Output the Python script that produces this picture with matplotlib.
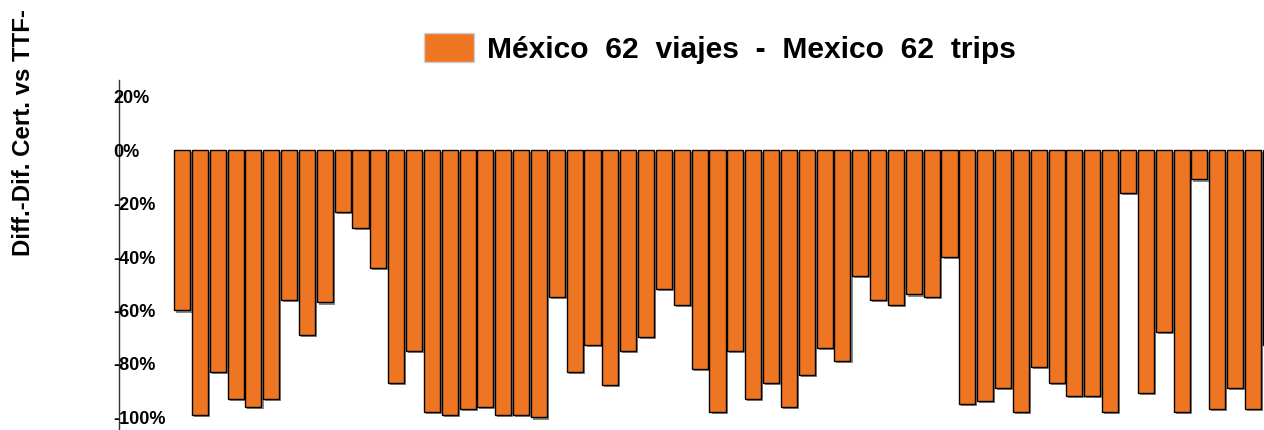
import matplotlib
matplotlib.use("Agg")
import matplotlib.pyplot as plt
import matplotlib.patheffects as pe
from matplotlib.patches import Patch
from matplotlib.ticker import PercentFormatter
import numpy as np

plt.rcParams['font.family'] = ['Liberation Sans', 'DejaVu Sans']
plt.rcParams['axes.unicode_minus'] = False

# ---- data ----
series_label = "México  62  viajes  -  Mexico  62  trips"
y_label = "Diff.-Dif. Cert. vs TTF-"
values = [-60, -99, -83, -93, -96, -93, -56, -69, -57, -23,
          -29, -44, -87, -75, -98, -99, -97, -96, -99, -99,
          -100, -55, -83, -73, -88, -75, -70, -52, -58, -82,
          -98, -75, -93, -87, -96, -84, -74, -79, -47, -56,
          -58, -54, -55, -40, -95, -94, -89, -98, -81, -87,
          -92, -92, -98, -16, -91, -68, -98, -11, -97, -89,
          -97, -73]
y_ticks = [-100, -80, -60, -40, -20, 0, 20]

bar_color = '#EE7623'

W, H = 1264, 430
fig = plt.figure(figsize=(W / 100, H / 100), dpi=100)
ax_left, ax_top, ax_bottom = 119, 80, 430
ax = fig.add_axes([ax_left / W, 1 - ax_bottom / H, 1 - ax_left / W, (ax_bottom - ax_top) / H])

x = np.arange(len(values))
bars = ax.bar(x, values, width=0.9, color=bar_color, edgecolor='black', linewidth=1.0,
              zorder=3)
for b in bars:
    b.set_path_effects([pe.SimplePatchShadow(offset=(1.5, -1.5), shadow_rgbFace='#555555', alpha=0.7),
                        pe.Normal()])

ax.set_xlim(-3.53, 60.62)
ax.set_ylim(-104.7, 26.2)
ax.set_yticks(y_ticks)
ax.yaxis.set_major_formatter(PercentFormatter(decimals=0))
ax.set_xticks([])
ax.tick_params(axis='y', length=0, pad=4.3)
for lab in ax.get_yticklabels():
    lab.set_horizontalalignment('left')
    lab.set_fontweight('bold')
    lab.set_fontsize(13)
    lab.set_verticalalignment('center_baseline')

for s in ['top', 'right', 'bottom']:
    ax.spines[s].set_visible(False)
ax.spines['left'].set_color('#333333')
ax.spines['left'].set_linewidth(1.0)
ax.spines['left'].set_zorder(0)

fig.text(24 / W, 1 - 133 / H, y_label, rotation=90, ha='center', va='center',
         fontsize=17.3, fontweight='bold')

handle = Patch(facecolor=bar_color, edgecolor='#d0d0d0', linewidth=1.0)
fig.legend([handle], [series_label], loc='center', bbox_to_anchor=(720 / W, 1 - 48.5 / H),
           frameon=False, prop={'weight': 'bold', 'size': 21.6},
           handlelength=1.67, handleheight=1.1, handletextpad=0.41, borderpad=0)

fig.savefig('out.png', dpi=100)
